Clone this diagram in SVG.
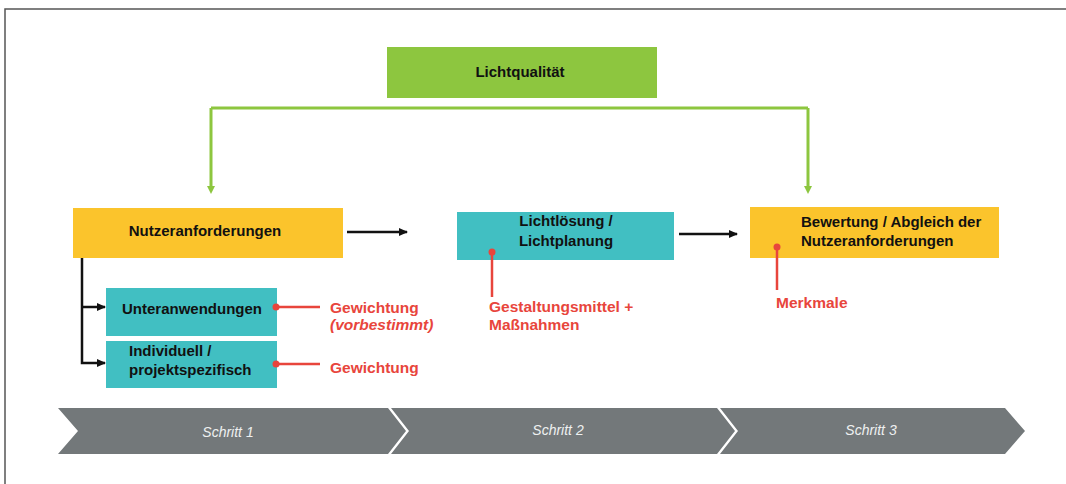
<svg xmlns="http://www.w3.org/2000/svg" width="1066" height="484" viewBox="0 0 1066 484">
<style>
.t{font-family:"Liberation Sans",Arial,sans-serif;font-weight:bold;font-size:15px;fill:#111}
.r{font-family:"Liberation Sans",Arial,sans-serif;font-weight:bold;font-size:15.5px;fill:#e8453c}
.s{font-family:"Liberation Sans",Arial,sans-serif;font-style:italic;font-size:14px;fill:#eef0f0}
.green{fill:#8dc63f}
.yellow{fill:#fbc42c}
.teal{fill:#41bfc2}
.chev{fill:#73787a}
.gl{stroke:#8dc63f;stroke-width:3;fill:none}
.bl{stroke:#111;stroke-width:2.5;fill:none}
.rl{stroke:#e8453c;stroke-width:2.5;fill:none}
.dot{fill:#e8453c}
</style>
<defs>
<marker id="ga" markerWidth="8" markerHeight="8" refX="4" refY="4" orient="auto" markerUnits="userSpaceOnUse"><path d="M0,0 L8,4 L0,8 z" fill="#8dc63f"/></marker>
<marker id="ba" markerWidth="9" markerHeight="8" refX="8" refY="4" orient="auto" markerUnits="userSpaceOnUse"><path d="M0,0 L9,4 L0,8 z" fill="#111"/></marker>
</defs>
<rect width="1066" height="484" fill="#fff"/>
<path d="M5,484 V9 H1066" stroke="#555" stroke-width="1.5" fill="none"/>

<g id="lichtqualitaet">
<rect class="green" x="387" y="47" width="270" height="51"/>
<text class="t" x="520" y="77" text-anchor="middle" font-size="14">Lichtqualität</text>
</g>
<g id="nutzeranforderungen">
<rect class="yellow" x="73" y="208" width="270" height="50"/>
<text class="t" x="205" y="236" text-anchor="middle">Nutzeranforderungen</text>
</g>
<g id="unteranwendungen">
<rect class="teal" x="106" y="288" width="171" height="48"/>
<text class="t" x="192" y="314" text-anchor="middle">Unteranwendungen</text>
</g>
<g id="individuell">
<rect class="teal" x="106" y="341" width="171" height="47"/>
<text class="t" x="129" y="356">Individuell /</text>
<text class="t" x="129" y="375">projektspezifisch</text>
</g>
<g id="lichtloesung">
<rect class="teal" x="457" y="212" width="217" height="48"/>
<text class="t" x="566" y="226" text-anchor="middle">Lichtlösung /</text>
<text class="t" x="566" y="246" text-anchor="middle">Lichtplanung</text>
</g>
<g id="bewertung">
<rect class="yellow" x="750" y="207" width="249" height="51"/>
<text class="t" x="801" y="227">Bewertung / Abgleich der</text>
<text class="t" x="801" y="246">Nutzeranforderungen</text>
</g>

<g id="connectors">
<path class="gl" d="M211,108 H808"/>
<path class="gl" d="M211,108 V190" marker-end="url(#ga)"/>
<path class="gl" d="M808,108 V190" marker-end="url(#ga)"/>
<path class="bl" d="M347,232 H407" marker-end="url(#ba)"/>
<path class="bl" d="M679,234 H737" marker-end="url(#ba)"/>
<path class="bl" d="M82,258 V363 H105" marker-end="url(#ba)"/>
<path class="bl" d="M82,307 H105" marker-end="url(#ba)"/>
<path class="rl" d="M276,307 H320"/>
<circle class="dot" cx="276" cy="307" r="3.5"/>
<path class="rl" d="M276,364 H320"/>
<circle class="dot" cx="276" cy="364" r="3.5"/>
<path class="rl" d="M492,252 V297"/>
<circle class="dot" cx="492" cy="252" r="3.5"/>
<path class="rl" d="M777,247 V290"/>
<circle class="dot" cx="777" cy="247" r="3.5"/>
</g>

<g id="labels">
<text class="r" x="330" y="313">Gewichtung</text>
<text class="r" x="330" y="330" font-style="italic">(vorbestimmt)</text>
<text class="r" x="330" y="373">Gewichtung</text>
<text class="r" x="489" y="312">Gestaltungsmittel +</text>
<text class="r" x="489" y="330">Maßnahmen</text>
<text class="r" x="776" y="308">Merkmale</text>
</g>
<g id="schritte">
<path class="chev" d="M58,408 H388 L406,431 L388,454 H58 L78,431 z"/>
<path class="chev" d="M391,408 H717 L735,431 L717,454 H391 L409,431 z"/>
<path class="chev" d="M720,408 H1005 L1025,431 L1005,454 H720 L738,431 z"/>
<text class="s" x="228" y="437" text-anchor="middle">Schritt 1</text>
<text class="s" x="558" y="435" text-anchor="middle">Schritt 2</text>
<text class="s" x="871" y="435" text-anchor="middle">Schritt 3</text>
</g>
</svg>
